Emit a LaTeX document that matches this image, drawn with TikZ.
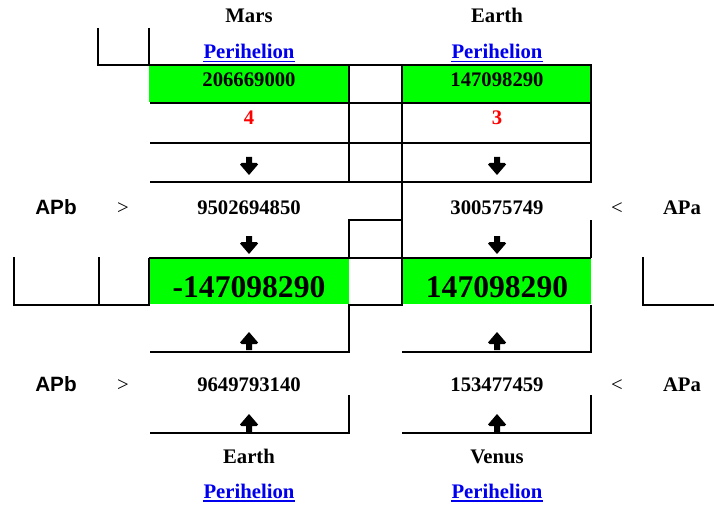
\documentclass[tikz,border=0pt]{standalone}
\usepackage{fontspec}
\setmainfont{Liberation Serif}
\newfontfamily\arialfont{Liberation Sans}
\definecolor{lgreen}{RGB}{0,255,0}
\definecolor{linkblue}{RGB}{0,0,238}
\definecolor{numred}{RGB}{255,0,0}
\tikzset{
  txt/.style={anchor=base,inner sep=0pt,font=\fontsize{20.7}{24}\selectfont\bfseries},
  bigtxt/.style={anchor=base,inner sep=0pt,font=\fontsize{31.6}{36}\selectfont\bfseries},
  reltxt/.style={anchor=base,inner sep=0pt,font=\fontsize{20.7}{24}\selectfont},
  sanslbl/.style={anchor=base,inner sep=0pt,font=\fontsize{20.7}{24}\selectfont\arialfont\bfseries},
  linktxt/.style={txt,text=linkblue},
  redtxt/.style={txt,text=numred},
  uline/.style={draw=linkblue,line width=1.6pt},
  rule/.style={draw=black,line width=2.5pt,line join=miter},
  greencell/.style={fill=lgreen,draw=none},
  downarr/.pic={\fill[black] (-3,0)--(3,0)--(3,6)--(7.5,6)--(9,7.5)--(0,18)--(-9,7.5)--(-7.5,6)--(-3,6)--cycle;}
}
\begin{document}
\begin{tikzpicture}[x=1pt,y=-1pt]
\useasboundingbox (0,0) rectangle (714,505);
% green cells
\fill[greencell] (149,66) rectangle (349,102);
\fill[greencell] (402,66) rectangle (591,102);
\fill[greencell] (150,259) rectangle (349,304);
\fill[greencell] (402,259) rectangle (591,304);
% table rules, top part
\draw[rule] (98,28) -- (98,65) -- (591,65) -- (591,182) -- (150,182);
\draw[rule] (149,28) -- (149,65);
\draw[rule] (349,65) -- (349,182);
\draw[rule] (150,103) -- (591,103);
\draw[rule] (150,143) -- (591,143);
\draw[rule] (402,65) -- (402,305) -- (349,305) -- (349,352) -- (150,352);
% middle part
\draw[rule] (402,220) -- (349,220) -- (349,258);
\draw[rule] (591,220) -- (591,258);
\draw[rule] (149,258) -- (591,258);
\draw[rule] (149,258) -- (149,305) -- (14,305) -- (14,257);
\draw[rule] (99,257) -- (99,305);
\draw[rule] (643,257) -- (643,305) -- (714,305);
% lower part
\draw[rule] (402,352) -- (591,352) -- (591,305);
\draw[rule] (150,433) -- (349,433) -- (349,395);
\draw[rule] (402,433) -- (591,433) -- (591,395);
% headings
\node[txt] (mars) at (249,23) {Mars};
\node[txt] (earthT) at (497,23) {Earth};
\node[linktxt] (p1) at (249,59) {Perihelion};
\node[linktxt] (p2) at (497,59) {Perihelion};
\draw[uline] ([yshift=-2.5pt]p1.base west) -- ([yshift=-2.5pt]p1.base east);
\draw[uline] ([yshift=-2.5pt]p2.base west) -- ([yshift=-2.5pt]p2.base east);
% first rows
\node[txt] (m1) at (249,87) {206669000};
\node[txt] (e1) at (497,87) {147098290};
\node[redtxt] (m2) at (249,125) {4};
\node[redtxt] (e2) at (497,125) {3};
\pic at (249,157) {downarr};
\pic at (497,157) {downarr};
% upper comparison row
\node[sanslbl] (apb1) at (56,214) {APb};
\node[reltxt] (gt1) at (123,214) {>};
\node[txt] (m3) at (249,214) {9502694850};
\node[txt] (e3) at (497,214) {300575749};
\node[reltxt] (lt1) at (617,214) {<};
\node[txt] (apa1) at (682,214) {APa};
\pic at (249,236) {downarr};
\pic at (497,236) {downarr};
% big values
\node[bigtxt] (mbig) at (249,297) {-147098290};
\node[bigtxt] (ebig) at (497,297) {147098290};
\pic[yscale=-1] at (249,350) {downarr};
\pic[yscale=-1] at (497,350) {downarr};
% lower comparison row
\node[sanslbl] (apb2) at (56,391) {APb};
\node[reltxt] (gt2) at (123,391) {>};
\node[txt] (m4) at (249,391) {9649793140};
\node[txt] (e4) at (497,391) {153477459};
\node[reltxt] (lt2) at (617,391) {<};
\node[txt] (apa2) at (682,391) {APa};
\pic[yscale=-1] at (249,432) {downarr};
\pic[yscale=-1] at (497,432) {downarr};
% bottom headings
\node[txt] (earthB) at (249,463) {Earth};
\node[txt] (venus) at (497,463) {Venus};
\node[linktxt] (p3) at (249,498) {Perihelion};
\node[linktxt] (p4) at (497,498) {Perihelion};
\draw[uline] ([yshift=-3pt]p3.base west) -- ([yshift=-3pt]p3.base east);
\draw[uline] ([yshift=-3pt]p4.base west) -- ([yshift=-3pt]p4.base east);
\end{tikzpicture}
\end{document}
